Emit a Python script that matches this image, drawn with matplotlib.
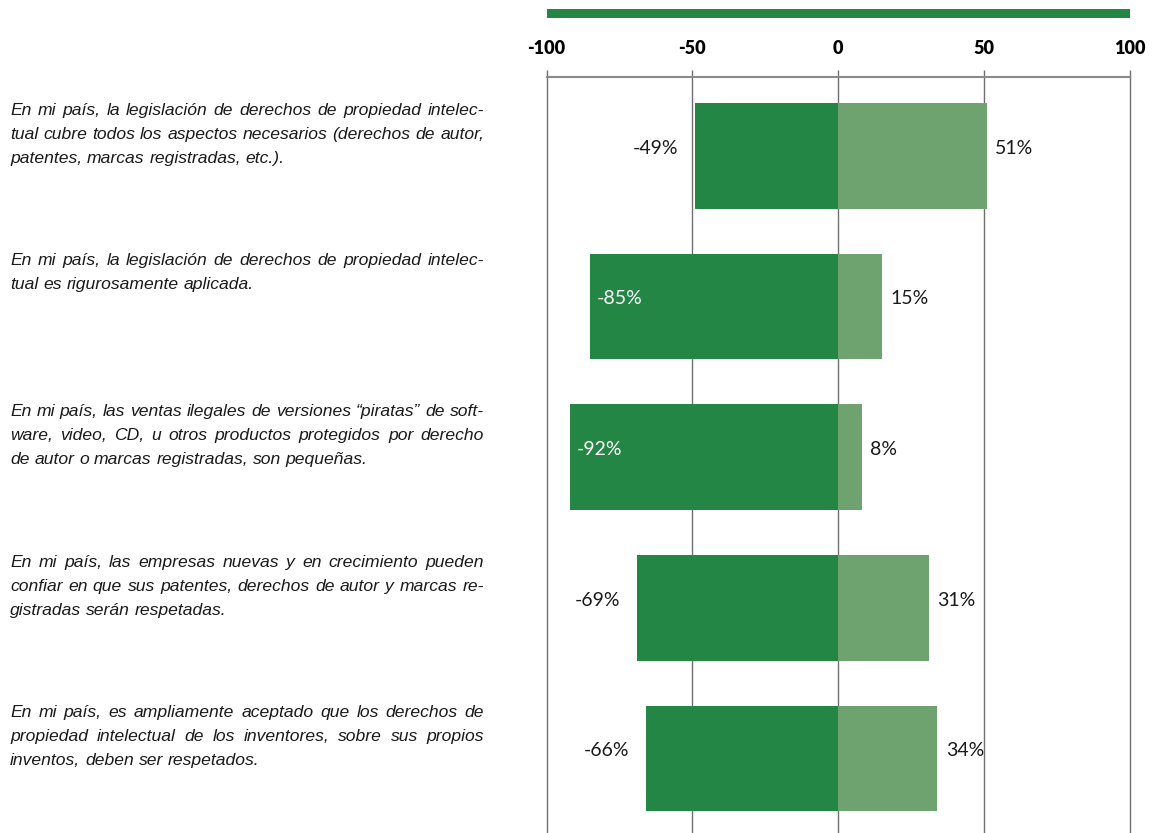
import matplotlib
matplotlib.use('Agg')
import matplotlib.pyplot as plt
from matplotlib.patches import Rectangle
from matplotlib.transforms import blended_transform_factory

# ---------------- data ----------------
categories = [
    "En mi país, la legislación de derechos de propiedad intelec-\n"
    "tual cubre todos los aspectos necesarios (derechos de autor,\n"
    "patentes, marcas registradas, etc.).",
    "En mi país, la legislación de derechos de propiedad intelec-\n"
    "tual es rigurosamente aplicada.",
    "En mi país, las ventas ilegales de versiones “piratas” de soft-\n"
    "ware, video, CD, u otros productos protegidos por derecho\n"
    "de autor o marcas registradas, son pequeñas.",
    "En mi país, las empresas nuevas y en crecimiento pueden\n"
    "confiar en que sus patentes, derechos de autor y marcas re-\n"
    "gistradas serán respetadas.",
    "En mi país, es ampliamente aceptado que los derechos de\n"
    "propiedad intelectual de los inventores, sobre sus propios\n"
    "inventos, deben ser respetados.",
]
negative = [-49, -85, -92, -69, -66]
positive = [51, 15, 8, 31, 34]
xticks = [-100, -50, 0, 50, 100]
xtick_labels = ["-100", "-50", "0", "50", "100"]

# ---------------- style ----------------
W, H, DPI = 1152, 833, 100
DARK = '#238645'
LIGHT = '#6EA26E'
GRID = '#707070'
TXT = '#1a1a1a'
FAM = ['Lato', 'DejaVu Sans']
FAM_TXT = ['Liberation Sans', 'DejaVu Sans']

fig = plt.figure(figsize=(W / DPI, H / DPI), dpi=DPI)
ax = fig.add_axes([546.5 / W, 0, (1130 - 546.5) / W, 1 - 77 / H])

y = list(range(len(categories)))
ax.barh(y, negative, height=0.7, color=DARK, zorder=2)
ax.barh(y, positive, height=0.7, color=LIGHT, zorder=2)

ax.set_xlim(-100, 100)
ax.set_ylim(4.494, -0.523)
ax.set_yticks([])

ax.xaxis.tick_top()
ax.set_xticks(xticks)
ax.set_xticklabels(xtick_labels, fontsize=13, fontweight='heavy', family=FAM, color='#000000')
ax.tick_params(axis='x', direction='out', length=5, width=1, color=GRID, pad=9.5)
ax.grid(axis='x', color=GRID, linewidth=1)
for gl in ax.get_xgridlines():
    gl.set_clip_on(False)
ax.set_axisbelow(True)
for s in ['left', 'right', 'bottom']:
    ax.spines[s].set_visible(False)
ax.spines['top'].set_color('#8a8a8a')
ax.spines['top'].set_linewidth(1.5)

# top decorative band
band_tr = blended_transform_factory(ax.transData, fig.transFigure)
ax.add_patch(Rectangle((xticks[0], 1 - 17.7 / H), xticks[-1] - xticks[0], 8.7 / H,
                       transform=band_tr, color=DARK, clip_on=False, lw=0))

# value labels
for i, (n, p) in enumerate(zip(negative, positive)):
    if n < -80:
        ax.annotate(f"{n}%", xy=(n, i), xytext=(5, 1.5), textcoords='offset points',
                    ha='left', va='baseline', fontsize=14, family=FAM, color='white', zorder=3)
    else:
        ax.annotate(f"{n}%", xy=(n, i), xytext=(-12, 1.5), textcoords='offset points',
                    ha='right', va='baseline', fontsize=14, family=FAM, color=TXT, zorder=3)
    ax.annotate(f"{p}%", xy=(p, i), xytext=(6, 1.5), textcoords='offset points',
                ha='left', va='baseline', fontsize=14, family=FAM, color=TXT, zorder=3)

# left justified category texts
TEXT_LEFT, TEXT_RIGHT = 10, 484
LINE_H = 24.0
FIRST = 11.5
trans = blended_transform_factory(fig.transFigure, ax.transData)
fig.canvas.draw()
renderer = fig.canvas.get_renderer()


def width_of(s, fs):
    t = fig.text(0, 0, s, fontsize=fs, style='italic', family=FAM_TXT)
    w = t.get_window_extent(renderer).width
    t.remove()
    return w


# fit font size so that the widest justified line just fits the column
base_fs = 11.0
widest = 0
for para in categories:
    for line in para.split('\n')[:-1]:
        widest = max(widest, width_of(line, base_fs))
FS = min(13.0, base_fs * (TEXT_RIGHT - TEXT_LEFT) / widest * 0.995)

space_w = width_of("x x", FS) - width_of("xx", FS)

for i, para in enumerate(categories):
    lines = para.split('\n')
    for k, line in enumerate(lines):
        words = line.split(' ')
        objs = []
        widths = []
        for w in words:
            t = ax.annotate(w, xy=(0, i - 0.35), xycoords=trans,
                            xytext=(0, -(FIRST + k * LINE_H) * 72 / DPI),
                            textcoords='offset points', ha='left', va='baseline',
                            fontsize=FS, style='italic', family=FAM_TXT, color=TXT,
                            annotation_clip=False)
            objs.append(t)
            widths.append(t.get_window_extent(renderer).width)
        last = (k == len(lines) - 1)
        if last or len(words) == 1:
            gap = space_w
        else:
            gap = (TEXT_RIGHT - TEXT_LEFT - sum(widths)) / (len(words) - 1)
        x = TEXT_LEFT
        for t, w in zip(objs, widths):
            t.xy = (x / W, i - 0.35)
            x += w + gap

fig.savefig('out.png', dpi=DPI)
